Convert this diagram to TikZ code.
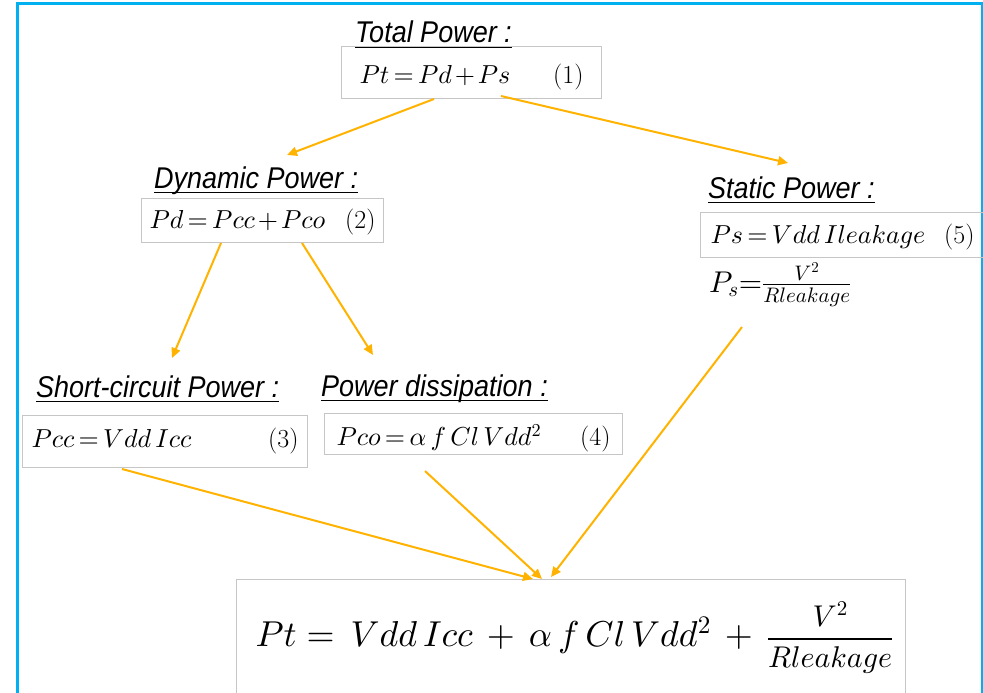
\documentclass[tikz,border=0pt]{standalone}
\usepackage{fontspec}
\usepackage{tikz}
\usetikzlibrary{arrows.meta}
\newfontfamily\titlefont[FakeStretch=0.9]{Liberation Sans}
\definecolor{FrameBlue}{HTML}{00B0F0}
\definecolor{PowerGold}{HTML}{FFB300}
\definecolor{BoxGray}{HTML}{C6C6C6}
\newcommand{\undl}[1]{\underline{\smash{#1}}}
% free scaling of the math fonts
\DeclareFontShape{OT1}{cmr}{m}{n}{<->cmr10}{}
\DeclareFontShape{OML}{cmm}{m}{it}{<->cmmi10}{}
\DeclareFontShape{OMS}{cmsy}{m}{n}{<->cmsy10}{}
\DeclareFontShape{OMX}{cmex}{m}{n}{<->cmex10}{}

\begin{document}
\begin{tikzpicture}[x=1pt, y=-1pt,
  every node/.style={inner sep=0pt},
  ttl/.style={anchor=base west, font=\titlefont\itshape\fontsize{30}{36}\selectfont},
  eqbox/.style={draw=BoxGray, line width=1pt, anchor=north west, align=left, inner ysep=0pt,
                font={\fontsize{26}{30}\selectfont\thickmuskip=3mu\medmuskip=2mu}},
  eqtxt/.style={anchor=base west, font=\fontsize{30}{34}\selectfont},
  flow/.style={draw=PowerGold, line width=2pt, -{Triangle[length=10pt,width=9pt]}}]

  \useasboundingbox (0,0) rectangle (983,693);

  % ===== outer frame =====
  \draw[FrameBlue, line width=3pt] (17,4) rectangle (982,697);

  % ===== titles =====
  \node[ttl] (tTot) at (355,43)  {\undl{Total Power :}};
  \node[ttl] (tDyn) at (154,188) {\undl{Dynamic Power :}};
  \node[ttl] (tSta) at (708,198) {\undl{Static Power :}};
  \node[ttl] (tSc)  at (36,397)  {\undl{Short-circuit Power :}};
  \node[ttl] (tDis) at (321,396) {\undl{Power dissipation :}};

  % ===== equation boxes =====
  \node[eqbox, minimum width=260pt, minimum height=52pt, inner xsep=18pt, text width=224pt,
        text height=24pt, text depth=2pt] (eTot) at (341,46) {$Pt = Pd + Ps$\hfill(1)};
  \node[eqbox, minimum width=242pt, minimum height=44pt, inner xsep=8pt, text width=226pt,
        text height=20pt, text depth=4pt] (eDyn) at (141,198) {$Pd = Pcc + Pco$\hfill(2)};
  \node[eqbox, minimum width=285pt, minimum height=52pt, inner xsep=9pt, text width=267pt,
        text height=20pt, text depth=8pt] (eSc) at (22,415) {$Pcc = Vdd\,Icc$\hfill(3)};
  \node[eqbox, minimum width=298pt, minimum height=41pt, inner xsep=12pt, text width=274pt,
        text height=25pt, text depth=2pt] (eDis) at (324,413) {$Pco = \alpha\,f\,Cl\,Vdd^2$\hfill(4)};
  \node[eqbox, minimum width=284pt, minimum height=45pt, inner xsep=10pt, text width=264pt,
        text height=21pt, text depth=4pt] (eSta) at (700,212) {$Ps = Vdd\,Ileakage$\hfill(5)\hspace*{9pt}};
  \node[eqtxt] (eRl) at (709,292) {$P_s{=}\frac{V^2}{Rleakage}$};

  % ===== total (bottom) =====
  \node[eqbox, minimum width=669pt, minimum height=131pt, inner xsep=19pt, text width=631pt,
        text height=30pt, text depth=27pt, font=\fontsize{36}{42}\selectfont] (eAll) at (236,579)
        {\mbox{$Pt = \,Vdd\,Icc \,+\, \alpha\,f\,Cl\,Vdd^2 \,+\,
         \mbox{\fontsize{30}{34}\selectfont$\displaystyle\frac{V^2}{Rleakage}$}$}};

  % ===== arrows =====
  \draw[flow] ([xshift=93pt]eTot.south west) -- ([xshift=133pt,yshift=33pt]tDyn.base west);
  \draw[flow] ([xshift=160pt,yshift=3pt]eTot.south west) -- ([xshift=80pt,yshift=35pt]tSta.base west);
  \draw[flow] ([xshift=80pt]eDyn.south west) -- ([xshift=136pt,yshift=39pt]tSc.base west);
  \draw[flow] ([xshift=161pt]eDyn.south west) -- ([xshift=52pt,yshift=41pt]tDis.base west);
  \draw[flow] ([xshift=100pt,yshift=-1pt]eSc.south west) -- ([xshift=297pt]eAll.north west);
  \draw[flow] ([xshift=101pt,yshift=-16pt]eDis.south west) -- ([xshift=306pt]eAll.north west);
  \draw[flow] ([xshift=33pt,yshift=-35pt]eRl.base west) -- ([xshift=315pt,yshift=2pt]eAll.north west);

\end{tikzpicture}
\end{document}
